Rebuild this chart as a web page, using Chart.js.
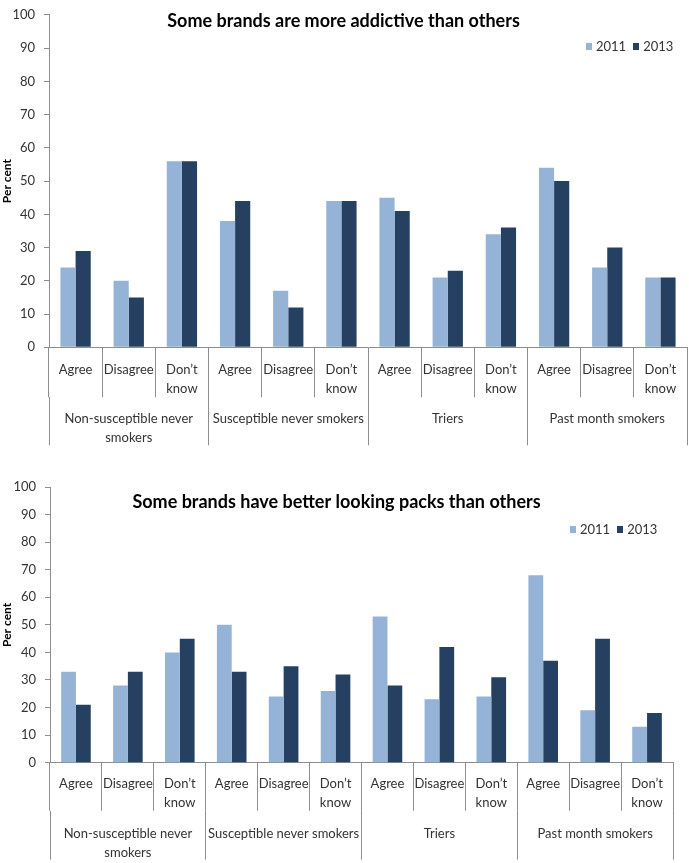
<!DOCTYPE html>
<html>
<head>
<meta charset="utf-8">
<script src="https://cdn.jsdelivr.net/npm/chart.js@4"></script>
<style>
  body { margin: 0; background: #fff; }
  .box { position: absolute; left: 0; width: 689px; }
  .legend { position: absolute; display: flex; align-items: center; font: 13px Lato, 'Open Sans', sans-serif; color: #333; line-height: 16px; white-space: nowrap; }
  .legend span.sw { display: inline-block; width: 6px; height: 7px; margin-right: 4px; }
  .legend span.item { display: inline-flex; align-items: center; margin-right: 7px; }
  .legend span.item:last-child { margin-right: 0; }
</style>
</head>
<body>
<div class="box" style="top:0"><canvas id="addictiveChart" width="689" height="455"></canvas></div>
<div class="box" style="top:455px"><canvas id="packsChart" width="689" height="408"></canvas></div>
<div class="legend" id="addictiveLegend" style="left:586px; top:38px"></div>
<div class="legend" id="packsLegend" style="left:570px; top:521px"></div>
<script>
// Sub categories (answers) and groups of respondents
const answers = [
  "Agree", "Disagree", ["Don\u2019t", "know"],
  "Agree", "Disagree", ["Don\u2019t", "know"],
  "Agree", "Disagree", ["Don\u2019t", "know"],
  "Agree", "Disagree", ["Don\u2019t", "know"]
];
const groups = [["Non-susceptible never", "smokers"], "Susceptible never smokers", "Triers", "Past month smokers"];
const yTicks = [0, 10, 20, 30, 40, 50, 60, 70, 80, 90, 100];

// "Some brands are more addictive than others"
const addictive2011 = [24, 20, 56, 38, 17, 44, 45, 21, 34, 54, 24, 21];
const addictive2013 = [29, 15, 56, 44, 12, 44, 41, 23, 36, 50, 30, 21];

// "Some brands have better looking packs than others"
const packs2011 = [33, 28, 40, 50, 24, 26, 53, 23, 24, 68, 19, 13];
const packs2013 = [21, 33, 45, 33, 35, 32, 28, 42, 31, 37, 45, 18];

const light = "#95b3d7";
const dark = "#254061";
const lineGrey = "#8e8e8e";
const font = "Lato, 'Open Sans', sans-serif";

// legend floats over the plot in the original, so it is built as html
function htmlLegend(chart, legendId) {
  const el = document.getElementById(legendId);
  el.innerHTML = "";
  chart.data.datasets.forEach(ds => {
    const item = document.createElement("span");
    item.className = "item";
    const sw = document.createElement("span");
    sw.className = "sw";
    sw.style.background = ds.backgroundColor;
    item.appendChild(sw);
    item.appendChild(document.createTextNode(ds.label));
    el.appendChild(item);
  });
}

function makeChart(id, title, d2011, d2013, g) {
  const ctx = document.getElementById(id).getContext("2d");
  return new Chart(ctx, {
    type: "bar",
    data: {
      labels: answers,
      datasets: [
        { label: "2011", data: d2011, backgroundColor: light, xAxisID: "x" },
        { label: "2013", data: d2013, backgroundColor: dark, xAxisID: "x" }
      ]
    },
    options: {
      responsive: false,
      animation: false,
      categoryPercentage: 0.57,
      barPercentage: 1,
      layout: { padding: g.padding },
      plugins: {
        // zero-height title box so the text overlaps the plot area
        title: {
          display: true,
          text: title,
          color: "#000",
          font: { family: font, size: 18, weight: "bold", lineHeight: 1.2 },
          padding: g.titlePad
        },
        legend: { display: false },
        tooltip: { enabled: false }
      },
      scales: {
        y: {
          min: 0,
          max: 100,
          afterBuildTicks: (scale) => { scale.ticks = yTicks.map(v => ({ value: v })); },
          afterFit: (scale) => { scale.width = g.yWidth; },
          border: { color: lineGrey },
          grid: { drawOnChartArea: false, drawTicks: true, tickLength: 5, color: lineGrey },
          ticks: { padding: 9, color: "#333", font: { family: font, size: 13, lineHeight: 0.9 } },
          title: {
            display: true,
            text: "Per cent",
            color: "#000",
            padding: 0,
            font: { family: font, size: 12, weight: "bold", lineHeight: 1.2 }
          }
        },
        x: {
          type: "category",
          weight: 0,
          offset: true,
          afterFit: (scale) => { scale.height = g.xHeight; },
          border: { color: lineGrey },
          grid: { offset: true, drawOnChartArea: false, drawTicks: true, tickLength: g.xHeight, color: lineGrey },
          ticks: {
            padding: g.xPad,
            maxRotation: 0,
            autoSkip: false,
            color: "#333",
            font: { family: font, size: 13, lineHeight: 1.45 }
          }
        },
        x2: {
          type: "category",
          position: "bottom",
          labels: groups,
          weight: 1,
          offset: true,
          afterFit: (scale) => { scale.height = g.x2Height; },
          border: { display: false },
          grid: { offset: true, drawOnChartArea: false, drawTicks: true, tickLength: g.x2Tick, color: lineGrey },
          ticks: {
            padding: g.x2Pad,
            maxRotation: 0,
            autoSkip: false,
            color: "#333",
            font: { family: font, size: 13, lineHeight: 1.45 }
          }
        }
      }
    }
  });
}

const addictiveChart = makeChart("addictiveChart", "Some brands are more addictive than others", addictive2011, addictive2013, {
  padding: { top: 6, right: 2, left: 0, bottom: 0 },
  titlePad: { top: -4.8, bottom: -16.8 },
  yWidth: 49,
  xHeight: 50,
  xPad: -36.8,
  x2Height: 57.7,
  x2Tick: 48,
  x2Pad: -35.8
});
htmlLegend(addictiveChart, "addictiveLegend");

const packsChart = makeChart("packsChart", "Some brands have better looking packs than others", packs2011, packs2013, {
  padding: { top: 32, right: 16, left: 0, bottom: 0 },
  titlePad: { top: 4.2, bottom: -25.8 },
  yWidth: 50,
  xHeight: 48,
  xPad: -36.2,
  x2Height: 52.3,
  x2Tick: 49,
  x2Pad: -35.2
});
htmlLegend(packsChart, "packsLegend");
</script>
</body>
</html>
